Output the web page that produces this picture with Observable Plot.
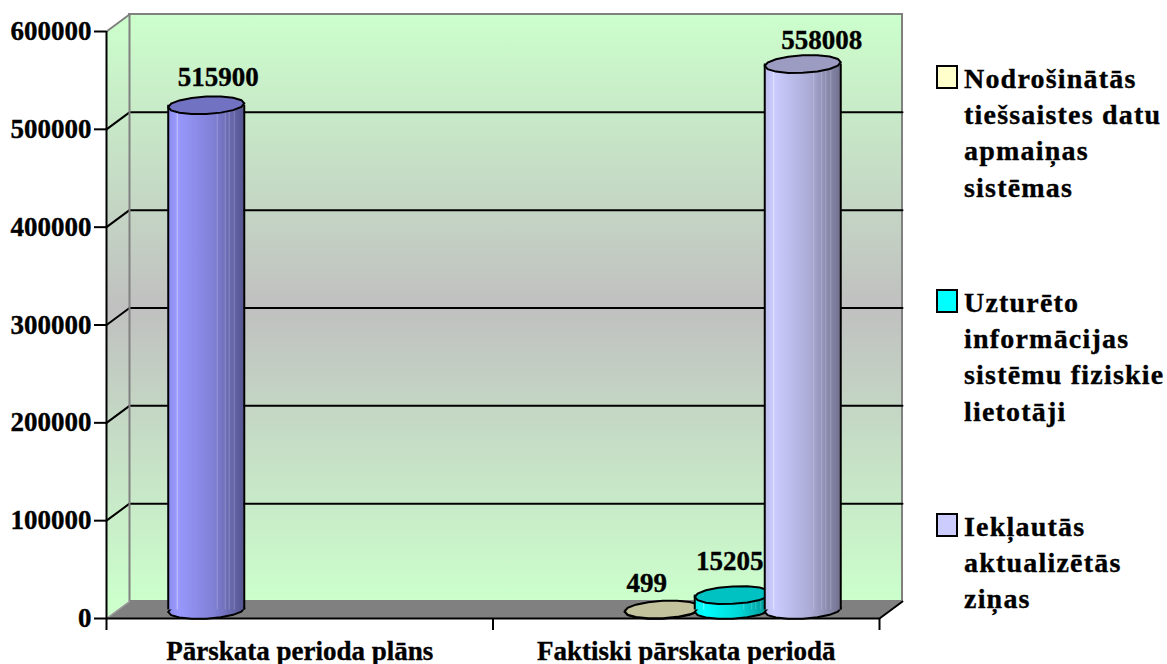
<!DOCTYPE html>
<html><head><meta charset="utf-8">
<script src="https://cdn.jsdelivr.net/npm/d3@7"></script>
<script src="https://cdn.jsdelivr.net/npm/@observablehq/plot@0.6"></script>
<style>
html,body{margin:0;padding:0;background:#fff;width:1167px;height:664px;overflow:hidden}
#wrap{position:relative;width:1167px;height:664px}
.lg{position:absolute;left:936px;display:flex;align-items:flex-start;font:bold 28px/36.2px "Liberation Serif",serif;color:#000;letter-spacing:1.2px;white-space:nowrap;-webkit-text-stroke:.35px #000}
.lg i{display:block;box-sizing:border-box;width:22px;height:24px;border:2px solid #000;margin:4px 6px 0 0;flex:none}
g[aria-label="cat"] text{letter-spacing:1.3px}
svg text{stroke:#000;stroke-width:.35px}
</style></head><body><div id="wrap"></div>
<script>
const categories = ["Pārskata perioda plāns", "Faktiski pārskata periodā"];
const seriesNames = ["Plāns", "Nodrošinātās tiešsaistes datu apmaiņas sistēmas", "Uzturēto informācijas sistēmu fiziskie lietotāji", "Iekļautās aktualizētās ziņas"];
const planValues = [515900, null, null, null];
const actualValues = [null, 499, 15205, 558008];
const yTicks = [0, 100000, 200000, 300000, 400000, 500000, 600000];
const xTicks = [0, 1, 2];
const legendEntries = [
  {key: "y", lines: ["Nodrošinātās", "tiešsaistes datu", "apmaiņas", "sistēmas"]},
  {key: "c", lines: ["Uzturēto", "informācijas", "sistēmu fiziskie", "lietotāji"]},
  {key: "p", lines: ["Iekļautās", "aktualizētās", "ziņas"]}
];

// layout constants (pixels), converted through the scales' unit sizes
const W = 1167, H = 664, mL = 106, mR = 288, mT = 31, mB = 46;
const pxX = (W - mL - mR) / 2, pxY = (H - mT - mB) / 600000;
const depthPx = [23, 17];
const dX = depthPx[0] / pxX, dY = depthPx[1] / pxY;
const slot = 70 / pxX, hw = 38 / pxX;
const serif = '"Liberation Serif", serif';

const styles = [
  {body: "url(#bBlue)", top: "#7272c2"},
  {body: "url(#bYellow)", top: "#c2c29c"},
  {body: "url(#bCyan)", top: "#00c2c2"},
  {body: "url(#bLilac)", top: "#9c9cc2"}
];
const labelOffset = [[12, -36], [-16, -35], [-3, -42], [19, -32]];
const stripes = [[9, .45], [49, .22], [57, .22], [61, .22], [66, .22]];

const bars = [];
[planValues, actualValues].forEach((vals, c) => vals.forEach((v, s) => {
  if (v != null) bars.push({cat: categories[c], series: seriesNames[s], s, v, cx: c + 0.5 + (s - 1.5) * slot});
}));

const sym = {draw(ctx, size) {
  const rx = Math.sqrt(size / Math.PI), ry = rx * 0.23, n = 16;
  for (let i = 0; i < n; ++i) {
    const a = 2 * Math.PI * i / n, px = rx * Math.cos(a), py = ry * Math.sin(a) - px * 0.05;
    i ? ctx.lineTo(px, py) : ctx.moveTo(px, py);
  }
  ctx.closePath();
}};

const backEdge = [{x: dX, y: 600000 + dY}, {x: dX, y: dY}];
const sideWall = [{x: 0, y: 0}, {x: 0, y: 600000}, {x: dX, y: 600000 + dY}, {x: dX, y: dY}];
const floor = [{x: 0, y: 0}, {x: dX, y: dY}, {x: 2 + dX, y: dY}, {x: 2, y: 0}];
const grid = yTicks.slice(1, -1).flatMap(t => [
  {t, x: 0, y: t}, {t, x: dX, y: t + dY}, {t, x: 2 + dX, y: t + dY}
]);

const marks = [
  Plot.rect([0], {x1: dX, x2: 2 + dX, y1: dY, y2: 600000 + dY, fill: "url(#wall)", stroke: "#808080", strokeWidth: 2}),
  Plot.line(sideWall, {x: "x", y: "y", fill: "url(#wall)", stroke: "none"}),
  Plot.line(floor, {x: "x", y: "y", fill: "#808080", stroke: "#808080", strokeWidth: 1}),
  Plot.line(grid, {x: "x", y: "y", z: "t", stroke: "#000", strokeWidth: 2}),
  Plot.line([{x: 0, y: 600000}, {x: dX, y: 600000 + dY}], {x: "x", y: "y", stroke: "#808080", strokeWidth: 2}),
  Plot.line(backEdge, {x: "x", y: "y", stroke: "#808080", strokeWidth: 2}),
  Plot.line([{x: 0, y: 0}, {x: dX, y: dY}], {x: "x", y: "y", stroke: "#a0a0a0", strokeWidth: 1.5}),
  Plot.line([{x: 2, y: 0}, {x: 2 + dX, y: dY}], {x: "x", y: "y", stroke: "#000", strokeWidth: 2}),
  Plot.ruleY([0], {x1: 0, x2: 2, stroke: "#000", strokeWidth: 2}),
  Plot.ruleX([0], {y1: 0, y2: 600000, stroke: "#000", strokeWidth: 2}),
  Plot.axisY({ticks: yTicks, tickSize: 12, tickPadding: 3, tickFormat: d => String(d), label: null, strokeWidth: 2, stroke: "#000",
    fontFamily: serif, fontWeight: "bold", fontSize: 27, fill: "#000"}),
  Plot.axisX({ticks: xTicks, tickSize: 12, tickFormat: () => "", label: null, strokeWidth: 2, stroke: "#000"}),
  Plot.text(categories, {x: (d, i) => i + 0.5, y: () => 0, text: d => d, dy: 33, ariaLabel: "cat",
    fontFamily: serif, fontWeight: "bold", fontSize: 27, fill: "#000"})
];

const dx = depthPx[0] / 2, dy = -depthPx[1] / 2;
for (const b of bars) {
  const st = styles[b.s], one = [b];
  marks.push(
    Plot.dot(one, {x: "cx", y: () => 0, r: 38, symbol: sym, dx, dy, fill: st.body, stroke: "#000", strokeWidth: 2}),
    Plot.rect(one, {x1: d => d.cx - hw, x2: d => d.cx + hw, y1: 0, y2: "v", dx, dy, fill: st.body})
  );
  for (const [off, op] of stripes) {
    marks.push(Plot.ruleX(one, {x: d => d.cx - hw + off / pxX, y1: 0, y2: "v", dx, dy, stroke: "#fff", strokeOpacity: op, strokeWidth: 1}));
  }
  marks.push(
    Plot.ruleX(one, {x: d => d.cx - hw, y1: 0, y2: "v", dx, dy, stroke: "#000", strokeWidth: 2}),
    Plot.ruleX(one, {x: d => d.cx + hw, y1: 0, y2: "v", dx, dy, stroke: "#000", strokeWidth: 2}),
    Plot.dot(one, {x: "cx", y: "v", r: 38, symbol: sym, dx, dy, fill: st.top, stroke: "#000", strokeWidth: 2})
  );
}
bars.forEach(b => {
  const [ox, oy] = labelOffset[b.s];
  marks.push(Plot.text([b], {x: "cx", y: "v", text: d => String(d.v), dx: dx + ox, dy: oy + dy + 8.5,
    fontFamily: serif, fontWeight: "bold", fontSize: 27, fill: "#000"}));
});

const chart = Plot.plot({
  width: W, height: H, marginLeft: mL, marginRight: mR, marginTop: mT, marginBottom: mB,
  x: {type: "linear", domain: [0, 2]},
  y: {type: "linear", domain: [0, 600000]},
  style: {background: "#fff", overflow: "visible"},
  marks
});

const grad = (id, a, b, c, d) => `<linearGradient id="${id}" x1="0" x2="1" y1="0" y2="0">
<stop offset="0" stop-color="${a}"/><stop offset=".12" stop-color="${b}"/><stop offset=".6" stop-color="${c}"/><stop offset="1" stop-color="${d}"/></linearGradient>`;
d3.select(chart).insert("defs", ":first-child").html(`
<linearGradient id="wall" gradientUnits="userSpaceOnUse" x1="0" x2="0" y1="14" y2="601">
<stop offset="0" stop-color="#ccffcc"/><stop offset=".5" stop-color="#c0c0c0"/><stop offset="1" stop-color="#ccffcc"/></linearGradient>
${grad("bBlue", "#8c8ceb", "#9999ff", "#8080d6", "#55558f")}
${grad("bYellow", "#eeeebb", "#ffffcc", "#d6d6ab", "#8f8f72")}
${grad("bCyan", "#00ecec", "#00ffff", "#00d6d6", "#008f8f")}
${grad("bLilac", "#bcbceb", "#ccccff", "#ababd6", "#72728f")}`);
const wrap = document.getElementById("wrap");
wrap.appendChild(chart);
chart.style.display = "block";

const swatch = {y: "#ffffcc", c: "#00ffff", p: "#ccccff"};
const tops = [61, 285, 509];
legendEntries.forEach((e, i) => {
  const d = document.createElement("div");
  d.className = "lg";
  d.style.top = tops[i] + "px";
  const sw = document.createElement("i");
  sw.style.background = swatch[e.key];
  const t = document.createElement("span");
  t.innerHTML = e.lines.join("<br>");
  d.append(sw, t);
  wrap.appendChild(d);
});
</script></body></html>
